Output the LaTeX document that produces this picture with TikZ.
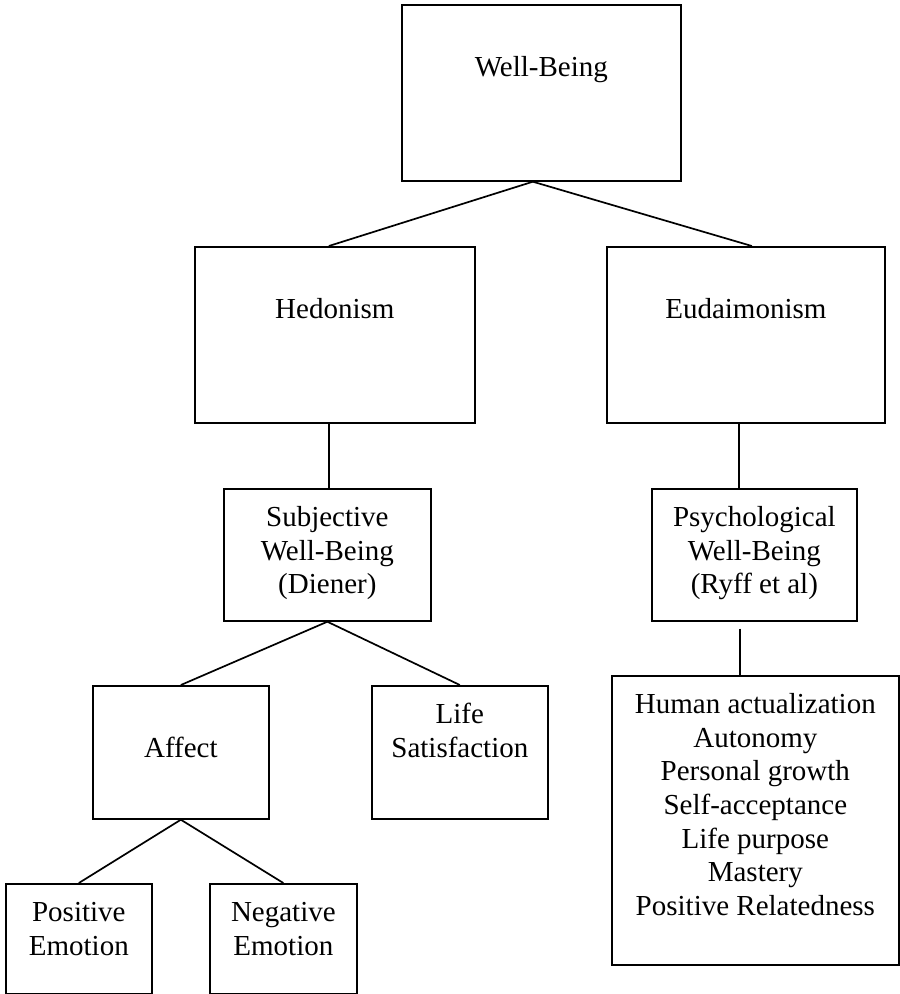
\documentclass[tikz,border=0pt]{standalone}
\usepackage{fontspec}
\setmainfont{Liberation Serif}
\begin{document}
\begin{tikzpicture}[x=1pt,y=-1pt,line width=1.7pt,
every label/.style={font=\fontsize{29}{33.7}\selectfont,align=center,inner sep=0pt},
blk/.style={draw,anchor=north west,inner sep=0pt},
txt/.style={anchor=north,yshift=-#1}]

\useasboundingbox (0,0) rectangle (900,994);

\node[blk,minimum width=279pt,minimum height=176pt,label={[txt=52pt]north:Well-Being}] (wb) at (401,4) {};
\node[blk,minimum width=280pt,minimum height=176pt,label={[txt=52pt]north:Hedonism}] (hed) at (194,246) {};
\node[blk,minimum width=278pt,minimum height=176pt,label={[txt=52pt]north:Eudaimonism}] (eud) at (606,246) {};
\node[blk,minimum width=207pt,minimum height=132pt,label={[txt=17.5pt]north:Subjective\\Well-Being\\(Diener)}] (swb) at (223,488) {};
\node[blk,minimum width=205pt,minimum height=132pt,label={[txt=17.5pt]north:Psychological\\Well-Being\\(Ryff et al)}] (pwb) at (651,488) {};
\node[blk,minimum width=176pt,minimum height=133pt,label={[txt=51.5pt]north:Affect}] (aff) at (92,685) {};
\node[blk,minimum width=176pt,minimum height=133pt,label={[txt=17.5pt]north:Life\\Satisfaction}] (ls) at (371,685) {};
\node[blk,minimum width=287pt,minimum height=289pt,label={[txt=17.5pt]north:Human actualization\\Autonomy\\Personal growth\\Self-acceptance\\Life purpose\\Mastery\\Positive Relatedness}] (ha) at (611,675) {};
\node[blk,minimum width=146pt,minimum height=110pt,label={[txt=18.5pt]north:Positive\\Emotion}] (pos) at (5,883) {};
\node[blk,minimum width=147pt,minimum height=110pt,label={[txt=18.5pt]north:Negative\\Emotion}] (neg) at (209,883) {};

\draw ([xshift=-8.5pt]wb.south) to ([xshift=-6pt]hed.north);
\draw ([xshift=-8.5pt]wb.south) to ([xshift=6pt]eud.north);
\draw ([xshift=-6pt]hed.south) to ([xshift=1.5pt]swb.north);
\draw ([xshift=-7pt]eud.south) to ([xshift=-15.5pt]pwb.north);
\draw ([xshift=-14.5pt,yshift=-7pt]pwb.south) to ([xshift=-15.5pt]ha.north);
\draw (swb.south) to (aff.north);
\draw (swb.south) to (ls.north);
\draw (aff.south) to (pos.north);
\draw (aff.south) to (neg.north);
\end{tikzpicture}
\end{document}
